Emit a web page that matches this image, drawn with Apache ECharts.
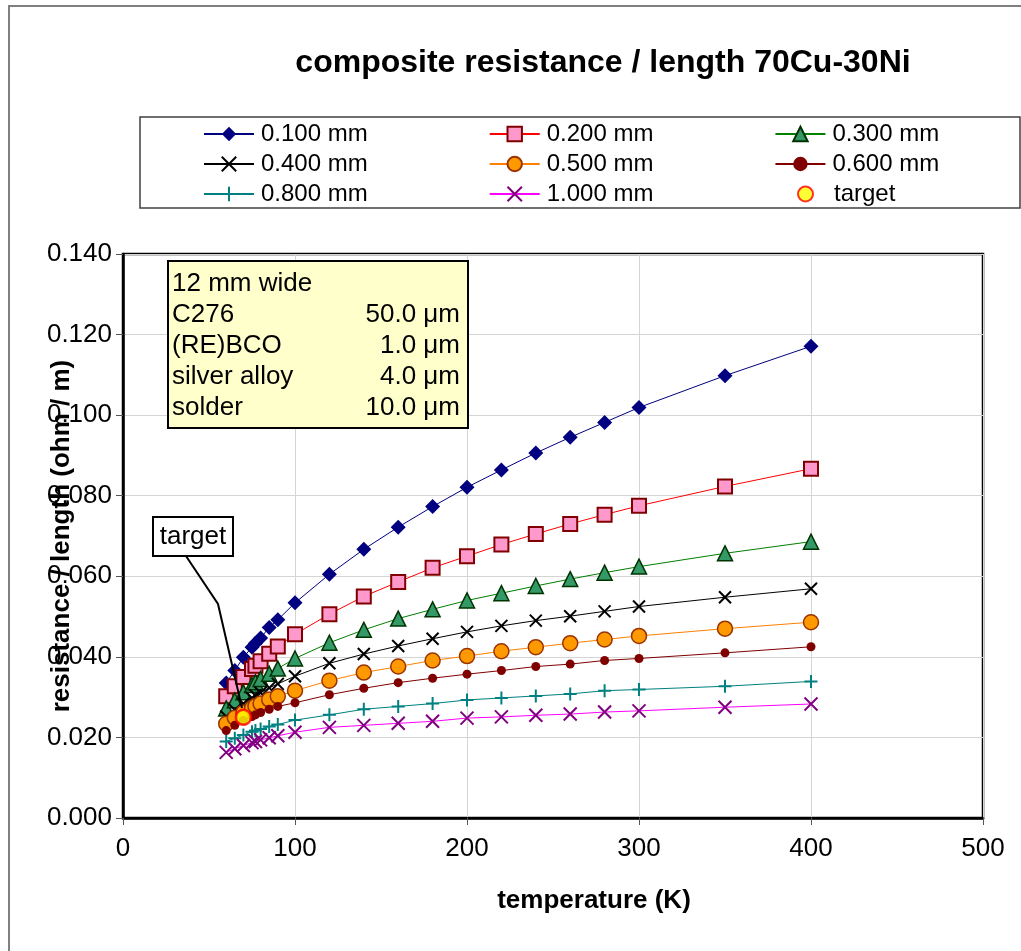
<!DOCTYPE html>
<html>
<head>
<meta charset="utf-8">
<script src="https://cdn.jsdelivr.net/npm/echarts@6/dist/echarts.min.js"></script>
<style>html,body{margin:0;padding:0;background:#fff;}#c{width:1021px;height:951px;}</style>
</head>
<body>
<div id="c"></div>
<script>
const temperatures = [60,65,70,75,77,80,85,90,100,120,140,160,180,200,220,240,260,280,300,350,400];
const s0100 = [0.0335,0.0366,0.0399,0.0424,0.0434,0.0447,0.0473,0.0492,0.0534,0.0605,0.0667,0.0722,0.0773,0.0821,0.0864,0.0906,0.0945,0.0982,0.1019,0.1098,0.1171];
const s0200 = [0.0302,0.0327,0.0350,0.0370,0.0378,0.0389,0.0408,0.0426,0.0456,0.0506,0.0550,0.0586,0.0621,0.0650,0.0679,0.0705,0.0730,0.0753,0.0775,0.0823,0.0867];
const s0300 = [0.0272,0.0292,0.0312,0.0330,0.0337,0.0345,0.0358,0.0371,0.0396,0.0435,0.0467,0.0495,0.0518,0.0540,0.0558,0.0576,0.0593,0.0609,0.0624,0.0657,0.0686];
const s0400 = [0.0252,0.0268,0.0284,0.0298,0.0304,0.0311,0.0323,0.0333,0.0352,0.0384,0.0407,0.0427,0.0445,0.0462,0.0477,0.0490,0.0501,0.0513,0.0525,0.0548,0.0569];
const s0500 = [0.0234,0.0249,0.0262,0.0273,0.0278,0.0284,0.0294,0.0302,0.0316,0.0341,0.0361,0.0376,0.0391,0.0402,0.0414,0.0424,0.0434,0.0443,0.0452,0.0470,0.0486];
const s0600 = [0.0217,0.0230,0.0242,0.0252,0.0256,0.0262,0.0270,0.0277,0.0286,0.0306,0.0322,0.0336,0.0347,0.0357,0.0366,0.0376,0.0382,0.0391,0.0396,0.0410,0.0425];
const s0800 = [0.0190,0.0198,0.0206,0.0214,0.0217,0.0221,0.0227,0.0232,0.0243,0.0256,0.0270,0.0277,0.0284,0.0293,0.0298,0.0303,0.0308,0.0316,0.0319,0.0327,0.0339];
const s1000 = [0.0163,0.0172,0.0180,0.0187,0.0190,0.0194,0.0199,0.0204,0.0213,0.0225,0.0230,0.0235,0.0240,0.0248,0.0251,0.0255,0.0258,0.0263,0.0266,0.0275,0.0283];
const targetPoint = [70, 0.0250];
const seriesNames = ['0.100 mm','0.200 mm','0.300 mm','0.400 mm','0.500 mm','0.600 mm','0.800 mm','1.000 mm','target'];
const xTicks = [0,100,200,300,400,500];
const yTicks = [0.000,0.020,0.040,0.060,0.080,0.100,0.120,0.140];
const infoRows = [['12 mm wide',''],['C276','50.0 \u03bcm'],['(RE)BCO','1.0 \u03bcm'],['silver alloy','4.0 \u03bcm'],['solder','10.0 \u03bcm']];

const FONT = '"Liberation Sans", Arial, sans-serif';
const pair = arr => temperatures.map((t,i)=>[t,arr[i]]);
const X_PATH = 'path://M0,0L10,10M10,0L0,10';
const PLUS_PATH = 'path://M5,0L5,10M0,5L10,5';

function lineSeries(name, data, lineColor, symbol, size, fill, border, bw) {
  return {
    name, type:'line', data: pair(data), symbol, symbolSize: size,
    lineStyle:{color:lineColor, width:1},
    itemStyle:{color:fill, borderColor:border, borderWidth:bw},
    emphasis:{disabled:true}, animation:false, z:3
  };
}

const series = [
  lineSeries(seriesNames[0], s0100, '#000080', 'diamond', 15, '#000080', '#000080', 0),
  lineSeries(seriesNames[1], s0200, '#FF0000', 'rect', 14, '#FF99CC', '#800000', 2),
  lineSeries(seriesNames[2], s0300, '#008000', 'triangle', 15, '#339966', '#003300', 1.5),
  lineSeries(seriesNames[3], s0400, '#000000', X_PATH, 12, 'rgba(0,0,0,0)', '#000000', 2),
  lineSeries(seriesNames[4], s0500, '#FF8000', 'circle', 15, '#FF9900', '#993300', 1.5),
  lineSeries(seriesNames[5], s0600, '#800000', 'circle', 9, '#800000', '#800000', 0),
  lineSeries(seriesNames[6], s0800, '#008080', PLUS_PATH, 13, 'rgba(0,0,0,0)', '#008080', 2),
  lineSeries(seriesNames[7], s1000, '#FF00FF', X_PATH, 13, 'rgba(0,0,0,0)', '#800080', 2),
  {name: seriesNames[8], type:'scatter', data:[targetPoint], symbol:'circle', symbolSize:15,
   itemStyle:{color:'#FFFF00', borderColor:'#FF0000', borderWidth:2.5}, z:5, animation:false}
];

function legendRow(names, left, top, opts) {
  return Object.assign({
    data: names, left: left, top: top, orient:'horizontal', itemGap: 121,
    itemWidth: 50, itemHeight: 18, padding: 0,
    textStyle:{fontFamily: FONT, fontSize: 24, color:'#000', padding:[0,0,0,2]},
    selectedMode:false
  }, opts || {});
}

const chart = echarts.init(document.getElementById('c'), null, {renderer:'canvas'});
chart.setOption({
  backgroundColor:'#ffffff',
  animation:false,
  title:{text:'composite resistance / length 70Cu-30Ni', left:598, top:42, textAlign:'center',
    textStyle:{fontFamily:FONT, fontSize:32, fontWeight:'bold', color:'#000'}},
  legend:[
    legendRow(seriesNames.slice(0,3), 203, 122),
    legendRow(seriesNames.slice(3,6), 203, 152),
    legendRow(seriesNames.slice(6,8), 203, 182),
    legendRow([seriesNames[8]], 797, 182, {itemWidth:15, itemHeight:15,
      textStyle:{fontFamily: FONT, fontSize: 24, color:'#000', padding:[0,0,0,16]}})
  ],
  grid:{left:123, top:254, width:860, height:564, show:true, borderColor:'#000', borderWidth:2.5,
    containLabel:false, outerBoundsMode:'none'},
  xAxis:{type:'value', min:0, max:500, interval:100,
    name:'temperature (K)', nameLocation:'middle', nameGap:70, nameMoveOverlap:false,
    nameTextStyle:{fontFamily:FONT, fontSize:26, fontWeight:'bold', color:'#000', padding:[0,0,0,82]},
    axisLine:{show:true, lineStyle:{color:'#000', width:2.5}},
    axisTick:{show:true, length:7, lineStyle:{color:'#555', width:1}},
    axisLabel:{fontFamily:FONT, fontSize:26, color:'#000', margin:18,
      formatter: v => xTicks.includes(v) ? String(v) : ''},
    splitLine:{show:true, lineStyle:{color:'#d4d4d4', width:1}}},
  yAxis:{type:'value', min:0, max:0.14, interval:0.02,
    name:'resistance / length (ohm / m)', nameLocation:'middle', nameGap:48, nameMoveOverlap:false,
    nameTextStyle:{fontFamily:FONT, fontSize:26, fontWeight:'bold', color:'#000'},
    axisLine:{show:true, lineStyle:{color:'#000', width:2.5}},
    axisTick:{show:true, length:7, lineStyle:{color:'#555', width:1}},
    axisLabel:{fontFamily:FONT, fontSize:26, color:'#000', margin:11,
      formatter: v => { const m = yTicks.find(t => Math.abs(t - v) < 1e-9); return m === undefined ? '' : m.toFixed(3); }},
    splitLine:{show:true, lineStyle:{color:'#d4d4d4', width:1}}},
  series: series,
  graphic:[
    {type:'rect', z:-10, silent:true, shape:{x:9, y:6, width:1200, height:1200},
      style:{fill:'none', stroke:'#808080', lineWidth:2}},
    {type:'rect', z:-5, silent:true, shape:{x:140, y:117, width:880, height:91},
      style:{fill:'#fff', stroke:'#404040', lineWidth:1.5}},
    {type:'group', z:50, children:[
      {type:'rect', shape:{x:168, y:261, width:300, height:167},
        style:{fill:'#FFFFCC', stroke:'#000', lineWidth:2}, z:50},
      ...infoRows.flatMap((r,i)=>[
        {type:'text', z:51, style:{x:172, y:284 + i*31, text:r[0], fill:'#000', font:'26px '+FONT, textAlign:'left', textVerticalAlign:'middle'}},
        {type:'text', z:51, style:{x:460, y:284 + i*31, text:r[1], fill:'#000', font:'26px '+FONT, textAlign:'right', textVerticalAlign:'middle'}}
      ])
    ]},
    {type:'polyline', z:40, silent:true, shape:{points:[[186,556],[218,604],[242,708]]},
      style:{stroke:'#000', lineWidth:2, fill:'none'}},
    {type:'rect', z:41, silent:true, shape:{x:153, y:517, width:80, height:39},
      style:{fill:'#fff', stroke:'#000', lineWidth:2}},
    {type:'text', z:42, silent:true, style:{x:193, y:537, text:'target', fill:'#000', font:'26px '+FONT, textAlign:'center', textVerticalAlign:'middle'}}
  ]
});
</script>
</body>
</html>
